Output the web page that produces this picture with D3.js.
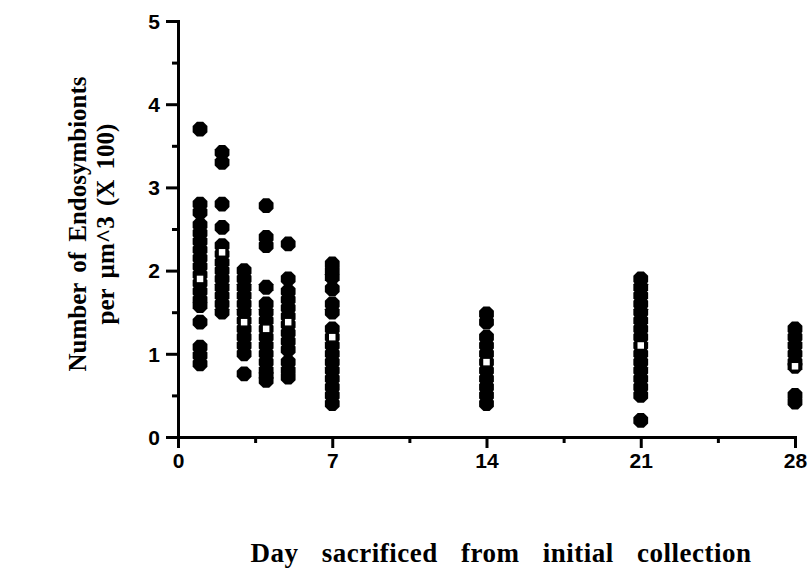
<!DOCTYPE html>
<html>
<head>
<meta charset="utf-8">
<script src="https://cdn.jsdelivr.net/npm/d3@7"></script>
<style>
  html, body { margin: 0; padding: 0; background: #fff; }
  svg { display: block; }
</style>
</head>
<body>
<svg id="chart" width="812" height="579"></svg>
<script>
// ---- data ----
const days = [1, 2, 3, 4, 5, 7, 14, 21, 28];
const day1  = [3.7, 2.8, 2.7, 2.55, 2.45, 2.35, 2.25, 2.15, 2.05, 1.95, 1.85, 1.75, 1.65, 1.58, 1.38, 1.08, 0.98, 0.88];
const day2  = [3.42, 3.3, 2.8, 2.52, 2.3, 2.2, 2.1, 2.0, 1.9, 1.8, 1.7, 1.6, 1.5];
const day3  = [2.0, 1.9, 1.8, 1.7, 1.6, 1.5, 1.4, 1.3, 1.2, 1.1, 1.0, 0.76];
const day4  = [2.78, 2.4, 2.3, 1.8, 1.6, 1.5, 1.4, 1.3, 1.2, 1.1, 1.0, 0.9, 0.8, 0.74, 0.68];
const day5  = [2.32, 1.9, 1.75, 1.65, 1.55, 1.45, 1.35, 1.25, 1.15, 1.05, 0.9, 0.8, 0.72];
const day7  = [2.08, 2.0, 1.92, 1.78, 1.6, 1.5, 1.3, 1.2, 1.1, 1.0, 0.9, 0.8, 0.7, 0.6, 0.5, 0.4];
const day14 = [1.48, 1.38, 1.2, 1.1, 1.0, 0.9, 0.8, 0.7, 0.6, 0.5, 0.4];
const day21 = [1.9, 1.8, 1.7, 1.6, 1.5, 1.4, 1.3, 1.2, 1.1, 1.0, 0.9, 0.8, 0.7, 0.6, 0.5, 0.2];
const day28 = [1.3, 1.2, 1.1, 1.0, 0.9, 0.85, 0.5, 0.42];
const seriesValues = [day1, day2, day3, day4, day5, day7, day14, day21, day28];
const medians = [1.9, 2.22, 1.38, 1.3, 1.38, 1.2, 0.9, 1.1, 0.85];
const xTicks = [0, 7, 14, 21, 28];
const xMinorTicks = [3.5, 10.5, 17.5, 24.5];
const yTicks = [0, 1, 2, 3, 4, 5];
const yMinorTicks = [0.5, 1.5, 2.5, 3.5, 4.5];
const yTitleLines = ["Number of Endosymbionts", "per \u00b5m^3 (X 100)"];
const xTitle = "Day sacrificed from initial collection";

// ---- layout ----
const svg = d3.select("#chart");
const x = d3.scaleLinear().domain([0, 28]).range([178, 795]);
const y = d3.scaleLinear().domain([0, 5]).range([437, 21]);

const axisFont = "'Liberation Sans', Arial, Helvetica, sans-serif";
const titleFont = "'Liberation Serif', 'Times New Roman', serif";

// Y axis (major + minor)
const yAxis = svg.append("g").attr("transform", `translate(${x(0)},0)`)
  .call(d3.axisLeft(y).tickValues(yTicks).tickFormat(d3.format("d")).tickSize(12).tickPadding(6));
svg.append("g").attr("transform", `translate(${x(0)},0)`)
  .call(d3.axisLeft(y).tickValues(yMinorTicks).tickFormat("").tickSize(6))
  .select(".domain").remove();

// X axis (major + minor)
const xAxis = svg.append("g").attr("transform", `translate(0,${y(0)})`)
  .call(d3.axisBottom(x).tickValues(xTicks).tickFormat(d3.format("d")).tickSize(11).tickPadding(5));
svg.append("g").attr("transform", `translate(0,${y(0)})`)
  .call(d3.axisBottom(x).tickValues(xMinorTicks).tickFormat("").tickSize(6))
  .select(".domain").remove();

svg.selectAll(".domain").attr("stroke", "#000").attr("stroke-width", 3);
svg.selectAll(".tick line").attr("stroke", "#000").attr("stroke-width", 3);
svg.selectAll(".tick text")
  .attr("fill", "#000")
  .style("font-family", axisFont)
  .style("font-size", "21px")
  .style("font-weight", "bold");
yAxis.selectAll(".tick text").attr("dy", "0.35em");

// octagon-like marker
const r = 8;
const oct = d3.range(8).map(i => {
  const a = Math.PI / 8 + i * Math.PI / 4;
  return [r * Math.cos(a), r * Math.sin(a)];
});
const octPath = "M" + oct.map(p => p.join(",")).join("L") + "Z";

const pts = [];
seriesValues.forEach((vals, i) => vals.forEach(v => pts.push({ day: days[i], v })));

svg.append("g").selectAll("path")
  .data(pts)
  .join("path")
  .attr("d", octPath)
  .attr("transform", d => `translate(${x(d.day)},${y(d.v)})`)
  .attr("fill", "#000");

// median markers (white squares)
svg.append("g").selectAll("rect")
  .data(medians.map((m, i) => ({ day: days[i], v: m })))
  .join("rect")
  .attr("x", d => x(d.day) - 4)
  .attr("y", d => y(d.v) - 4)
  .attr("width", 8)
  .attr("height", 8)
  .attr("fill", "#fff")
  .attr("stroke", "#000")
  .attr("stroke-width", 1.5);

// Y title
const yt = svg.append("text")
  .attr("transform", "translate(0,224) rotate(-90)")
  .attr("text-anchor", "middle")
  .style("font-family", titleFont)
  .style("font-weight", "bold")
  .style("font-size", "25px")
  .attr("fill", "#000");
yt.selectAll("tspan").data(yTitleLines).join("tspan")
  .attr("x", 0)
  .attr("y", (d, i) => 86 + i * 28)
  .style("word-spacing", "4px")
  .text(d => d);

// X title
svg.append("text")
  .attr("x", 501)
  .attr("y", 562)
  .attr("text-anchor", "middle")
  .style("font-family", titleFont)
  .style("font-weight", "bold")
  .style("font-size", "27px")
  .style("letter-spacing", "0.5px")
  .style("word-spacing", "16px")
  .attr("fill", "#000")
  .text(xTitle);
</script>
</body>
</html>
